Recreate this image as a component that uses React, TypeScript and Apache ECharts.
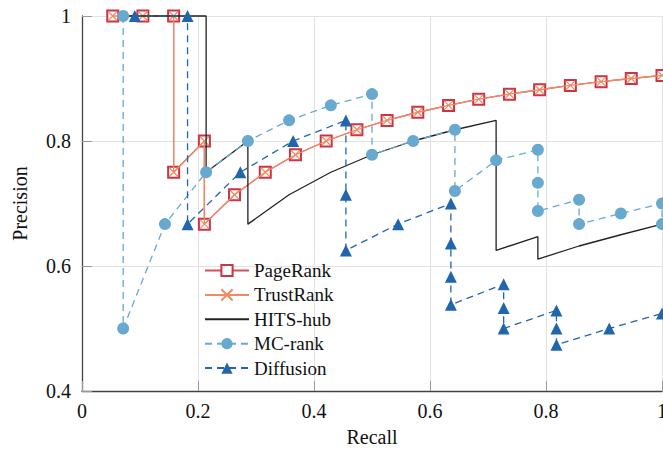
import React, { useEffect, useRef } from "react";
import * as echarts from "echarts";

const seriesNames = ["PageRank", "TrustRank", "HITS-hub", "MC-rank", "Diffusion"];

const pageRankRecall = [0.053, 0.105, 0.158, 0.158, 0.211, 0.211, 0.263, 0.316, 0.368, 0.421, 0.474, 0.526, 0.579, 0.632, 0.684, 0.737, 0.789, 0.842, 0.895, 0.947, 1.0];
const pageRankPrecision = [1.0, 1.0, 1.0, 0.75, 0.8, 0.667, 0.714, 0.75, 0.778, 0.8, 0.818, 0.833, 0.846, 0.857, 0.867, 0.875, 0.882, 0.889, 0.895, 0.9, 0.905];

const trustRankRecall = [0.053, 0.105, 0.158, 0.158, 0.211, 0.211, 0.263, 0.316, 0.368, 0.421, 0.474, 0.526, 0.579, 0.632, 0.684, 0.737, 0.789, 0.842, 0.895, 0.947, 1.0];
const trustRankPrecision = [1.0, 1.0, 1.0, 0.75, 0.8, 0.667, 0.714, 0.75, 0.778, 0.8, 0.818, 0.833, 0.846, 0.857, 0.867, 0.875, 0.882, 0.889, 0.895, 0.9, 0.905];

const hitsRecall = [0.071, 0.143, 0.214, 0.214, 0.286, 0.286, 0.357, 0.429, 0.5, 0.571, 0.643, 0.714, 0.714, 0.786, 0.786, 0.857, 0.929, 1.0];
const hitsPrecision = [1.0, 1.0, 1.0, 0.75, 0.8, 0.667, 0.714, 0.75, 0.778, 0.8, 0.818, 0.833, 0.625, 0.647, 0.611, 0.632, 0.65, 0.667];

const mcRecall = [0.071, 0.071, 0.143, 0.214, 0.286, 0.357, 0.429, 0.5, 0.5, 0.571, 0.643, 0.643, 0.714, 0.786, 0.786, 0.786, 0.857, 0.857, 0.929, 1.0, 1.0];
const mcPrecision = [1.0, 0.5, 0.667, 0.75, 0.8, 0.833, 0.857, 0.875, 0.778, 0.8, 0.818, 0.72, 0.769, 0.786, 0.733, 0.688, 0.706, 0.667, 0.684, 0.7, 0.667];

const diffRecall = [0.091, 0.182, 0.182, 0.273, 0.364, 0.455, 0.455, 0.455, 0.545, 0.636, 0.636, 0.636, 0.636, 0.727, 0.727, 0.727, 0.818, 0.818, 0.818, 0.909, 1.0];
const diffPrecision = [1.0, 1.0, 0.667, 0.75, 0.8, 0.833, 0.714, 0.625, 0.667, 0.7, 0.636, 0.583, 0.538, 0.571, 0.533, 0.5, 0.529, 0.5, 0.474, 0.5, 0.524];

const xTicks = [0, 0.2, 0.4, 0.6, 0.8, 1];
const yTicks = [0.4, 0.6, 0.8, 1];

const zip = (xs: number[], ys: number[]) => xs.map((x, i) => [x, ys[i]]);

const FONT = "Liberation Serif";

export default function App() {
  const ref = useRef<HTMLDivElement>(null);
  useEffect(() => {
    if (!ref.current) return;
    const chart = echarts.init(ref.current, null, { renderer: "svg" });
    const lw = 1.3;
    chart.setOption({
      animation: false,
      backgroundColor: "#ffffff",
      textStyle: { fontFamily: FONT },
      grid: { left: 82, right: 1, top: 16, bottom: 60, containLabel: false, outerBoundsMode: "none" },
      legend: {
        orient: "vertical",
        left: 199,
        top: 256,
        itemWidth: 44,
        itemHeight: 14,
        itemGap: 5.4,
        textStyle: { fontFamily: FONT, fontSize: 19, color: "#111" },
        data: [
          { name: seriesNames[0] },
          { name: seriesNames[1] },
          { name: seriesNames[2], itemStyle: { opacity: 0 } },
          { name: seriesNames[3] },
          { name: seriesNames[4] },
        ],
      },
      xAxis: {
        type: "value",
        min: xTicks[0],
        max: xTicks[xTicks.length - 1],
        interval: 0.2,
        name: "Recall",
        nameLocation: "middle",
        nameGap: 36,
        nameTextStyle: { fontFamily: FONT, fontSize: 20, color: "#111" },
        axisLine: { show: true, onZero: false, lineStyle: { color: "#444", width: 1.3 } },
        axisTick: { show: true, inside: true, length: 10, lineStyle: { color: "#999" } },
        axisLabel: { fontFamily: FONT, fontSize: 20, color: "#111", margin: 10 },
        splitLine: { show: true, lineStyle: { color: "#e2e2e2", width: 1 } },
      },
      yAxis: {
        type: "value",
        min: yTicks[0],
        max: yTicks[yTicks.length - 1],
        interval: 0.2,
        name: "Precision",
        nameLocation: "middle",
        nameGap: 52,
        nameTextStyle: { fontFamily: FONT, fontSize: 20, color: "#111" },
        axisLine: { show: true, onZero: false, lineStyle: { color: "#444", width: 1.3 } },
        axisTick: { show: true, inside: true, length: 10, lineStyle: { color: "#999" } },
        axisLabel: { fontFamily: FONT, fontSize: 20, color: "#111", margin: 11 },
        splitLine: { show: true, lineStyle: { color: "#e2e2e2", width: 1 } },
      },
      series: [
        {
          name: seriesNames[0],
          type: "line",
          data: zip(pageRankRecall, pageRankPrecision),
          symbol: "emptyRect",
          symbolSize: 11,
          clip: false,
          itemStyle: { color: "#cc3344", borderColor: "#cc3344", borderWidth: 1.4 },
          lineStyle: { color: "#d4505a", width: lw },
          z: 2,
        },
        {
          name: seriesNames[1],
          type: "line",
          data: zip(trustRankRecall, trustRankPrecision),
          symbol: "path://M0,0L10,10M0,10L10,0",
          symbolSize: 9,
          clip: false,
          itemStyle: { color: "#ef8a62", borderColor: "#ef8a62", borderWidth: 1.2 },
          lineStyle: { color: "#ef8a62", width: lw },
          z: 3,
        },
        {
          name: seriesNames[2],
          type: "line",
          data: zip(hitsRecall, hitsPrecision),
          symbol: "none",
          clip: false,
          itemStyle: { color: "#222" },
          lineStyle: { color: "#222", width: lw },
          z: 4,
        },
        {
          name: seriesNames[3],
          type: "line",
          data: zip(mcRecall, mcPrecision),
          symbol: "circle",
          symbolSize: 12,
          clip: false,
          itemStyle: { color: "#67a9cf", borderWidth: 0 },
          lineStyle: { color: "#67a9cf", width: lw, type: [7, 5] },
          z: 5,
        },
        {
          name: seriesNames[4],
          type: "line",
          data: zip(diffRecall, diffPrecision),
          symbol: "triangle",
          symbolSize: 12,
          clip: false,
          itemStyle: { color: "#2166ac", borderWidth: 0 },
          lineStyle: { color: "#2166ac", width: lw, type: [7, 5] },
          z: 6,
        },
      ],
    });
    return () => chart.dispose();
  }, []);
  return (
    <div
      ref={ref}
      style={{ position: "fixed", left: 0, top: 0, width: 663, height: 451, background: "#fff" }}
    />
  );
}
